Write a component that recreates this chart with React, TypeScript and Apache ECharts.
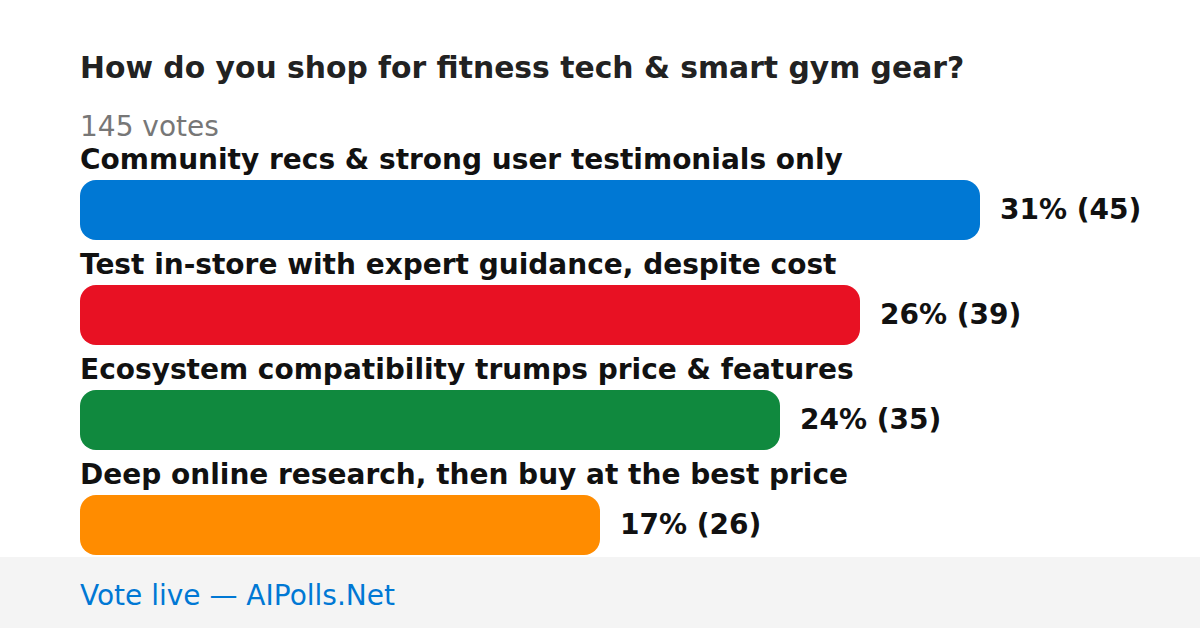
import React, { useEffect, useRef } from "react";
import * as echarts from "echarts";

const categories = [
  "Community recs & strong user testimonials only",
  "Test in-store with expert guidance, despite cost",
  "Ecosystem compatibility trumps price & features",
  "Deep online research, then buy at the best price",
];
const votes = [45, 39, 35, 26];
const percents = [31, 26, 24, 17];
const colors = ["#0078D4", "#E81123", "#10893E", "#FF8C00"];
const titleText = "How do you shop for fitness tech & smart gym gear?";
const totalText = "145 votes";
const footerText = "Vote live — AIPolls.Net";

const FONT = "'DejaVu Sans', sans-serif";

export default function App() {
  const ref = useRef<HTMLDivElement>(null);
  useEffect(() => {
    const chart = echarts.init(ref.current!, null, { renderer: "svg" });
    chart.setOption({
      animation: false,
      backgroundColor: "#ffffff",
      title: [
        {
          text: titleText,
          left: 80,
          top: 52.5,
          padding: 0,
          textStyle: { fontFamily: FONT, fontSize: 29.8, fontWeight: "bold", color: "#222222" },
        },
        {
          text: totalText,
          left: 80,
          top: 112,
          padding: 0,
          textStyle: { fontFamily: FONT, fontSize: 28, fontWeight: "normal", color: "#777777" },
        },
      ],
      graphic: [
        {
          type: "rect",
          shape: { x: 0, y: 557, width: 1200, height: 71 },
          style: { fill: "#f4f4f4" },
          silent: true,
        },
        {
          type: "text",
          x: 80,
          y: 595.5,
          style: {
            text: footerText,
            fontFamily: FONT,
            fontSize: 28,
            fill: "#0078D4",
            verticalAlign: "middle",
          },
        },
      ],
      grid: { left: 80, top: 157.5, width: 900, height: 420, containLabel: false },
      xAxis: {
        type: "value",
        min: 0,
        max: 45,
        show: false,
      },
      yAxis: {
        type: "category",
        data: categories,
        inverse: true,
        axisLine: { show: false },
        axisTick: { show: false },
        splitLine: { show: false },
        axisLabel: {
          inside: true,
          margin: 0,
          align: "left",
          verticalAlign: "bottom",
          padding: [0, 0, 37, 0],
          fontFamily: FONT,
          fontSize: 28,
          fontWeight: "bold",
          color: "#111111",
        },
      },
      series: [
        {
          type: "bar",
          data: votes.map((v, i) => ({ value: v, itemStyle: { color: colors[i] } })),
          barWidth: 60,
          itemStyle: { borderRadius: 16 },
          label: {
            show: true,
            position: "right",
            distance: 20,
            offset: [0, -1],
            formatter: (p: any) => `${percents[p.dataIndex]}% (${votes[p.dataIndex]})`,
            fontFamily: FONT,
            fontSize: 28,
            fontWeight: "bold",
            color: "#111111",
          },
        },
      ],
    });
    return () => chart.dispose();
  }, []);
  return (
    <div
      ref={ref}
      style={{ position: "fixed", left: 0, top: 0, width: 1200, height: 628 }}
    />
  );
}
